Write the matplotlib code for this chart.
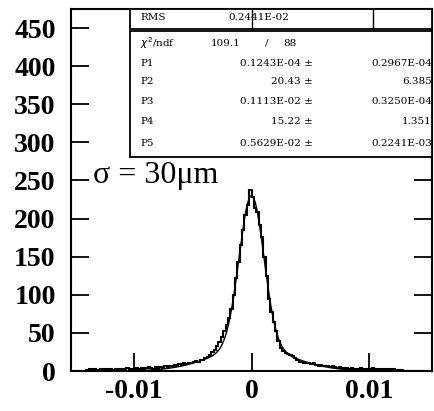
import numpy as np
import matplotlib
matplotlib.use("Agg")
import matplotlib.pyplot as plt
from matplotlib.patches import Rectangle

# histogram: 150 bins of 0.0002 from -0.015 to 0.015
bin_lo = -0.015
bin_w = 0.0002
counts = [
    0, 0, 0, 0, 0, 1, 2, 1, 2, 0,
    1, 2, 1, 2, 3, 2, 1, 2, 3, 2,
    3, 2, 4, 3, 2, 3, 4, 3, 4, 3,
    4, 5, 4, 3, 5, 4, 5, 4, 6, 5,
    7, 6, 8, 7, 9, 8, 10, 9, 11, 10,
    12, 13, 12, 14, 15, 17, 19, 21, 25, 28,
    33, 38, 45, 52, 60, 70, 82, 100, 122, 143,
    165, 185, 205, 218, 237, 228, 214, 208, 192, 176,
    150, 124, 95, 78, 64, 52, 40, 30, 26, 23,
    22, 21, 20, 17, 15, 12, 12, 11, 10, 10,
    9, 10, 8, 7, 8, 7, 6, 6, 5, 6,
    5, 4, 5, 4, 3, 4, 3, 4, 3, 2,
    3, 4, 3, 2, 3, 2, 4, 3, 2, 3,
    2, 1, 2, 3, 1, 2, 1, 0, 1, 0,
    0, 0, 0, 0, 0, 0, 0, 0, 0, 0,
]

# double gaussian
fit_mean = 0.0
fit_amp1, fit_sig1 = 200.0, 0.00105
fit_amp2, fit_sig2 = 30.0, 0.0034

xticks = [-0.01, 0, 0.01]
xticklabels = ["-0.01", "0", "0.01"]
yticks = [0, 50, 100, 150, 200, 250, 300, 350, 400, 450]

rms_txt = "0.2441E-02"
chi2_txt = ("109.1", "/", "88")
par_names = ["P1", "P2", "P3", "P4", "P5"]
par_vals = ["0.1243E-04", "20.43", "0.1113E-02", "15.22", "0.5629E-02"]
par_errs = ["0.2967E-04", "6.385", "0.3250E-04", "1.351", "0.2241E-03"]

edges = bin_lo + bin_w * np.arange(len(counts) + 1)

fig = plt.figure(figsize=(4.34, 4.11), dpi=100)
ax = fig.add_axes([71/434, 40/411, 361/434, 362/411])

ax.stairs(counts, edges, color="black", linewidth=1.5)
xf = np.linspace(-0.015, 0.015, 600)
yf = fit_amp1*np.exp(-0.5*((xf-fit_mean)/fit_sig1)**2) + fit_amp2*np.exp(-0.5*((xf-fit_mean)/fit_sig2)**2)
ax.plot(xf, yf, color="black", linewidth=1.0)

ax.set_xlim(-0.0153, 0.0153)
ax.set_ylim(0, 475)
ax.set_xticks(xticks)
ax.set_xticklabels(xticklabels)
ax.set_yticks(yticks)
ax.tick_params(direction="in", length=13, width=1.3, top=True, right=True, pad=6)
ax.tick_params(axis="y", pad=11)
for lab in ax.get_xticklabels() + ax.get_yticklabels():
    lab.set_fontfamily("Liberation Serif")
    lab.set_fontweight("bold")
    lab.set_fontsize(20)
for sp in ax.spines.values():
    sp.set_linewidth(1.5)

ax.text(0.061, 0.519, "σ = 30μm", transform=ax.transAxes, fontsize=23,
        family="Liberation Serif", va="baseline", ha="left")

# stats box, in pixel-like axes fractions
def fx(px):
    return (px - 71) / 361.0

def fy(py):
    return (371 - py) / 362.0

tr = ax.transAxes
kw = dict(transform=tr, clip_on=False, facecolor="white", edgecolor="black", linewidth=1.3, zorder=5)
ax.add_patch(Rectangle((fx(130), fy(29)), fx(432) - fx(130), fy(9) - fy(29), **kw))
ax.add_patch(Rectangle((fx(130), fy(157)), fx(432) - fx(130), fy(31) - fy(157), **kw))
ax.plot([fx(252), fx(252)], [fy(29), fy(9)], transform=tr, color="black", lw=1.0, zorder=6, clip_on=False)
ax.plot([fx(373), fx(373)], [fy(29), fy(9)], transform=tr, color="black", lw=1.0, zorder=6, clip_on=False)

tk = dict(transform=tr, fontsize=7.5, family="DejaVu Serif", va="center", zorder=7)
ax.text(fx(140), fy(18), "RMS", ha="left", **tk)
ax.text(fx(228), fy(18), rms_txt, ha="left", **tk)
ax.text(fx(140), fy(43), r"$\chi^2$/ndf", ha="left", **tk)
ax.text(fx(241), fy(43), chi2_txt[0], ha="right", **tk)
ax.text(fx(267), fy(43), chi2_txt[1], ha="center", **tk)
ax.text(fx(283), fy(43), chi2_txt[2], ha="left", **tk)
rows = [63, 82, 102, 122, 143]
for name, val, err, ry in zip(par_names, par_vals, par_errs, rows):
    ax.text(fx(140), fy(ry), name, ha="left", **tk)
    ax.text(fx(313), fy(ry), val + " ±", ha="right", **tk)
    ax.text(fx(432), fy(ry), err, ha="right", **tk)

fig.savefig("out.png", dpi=100)
